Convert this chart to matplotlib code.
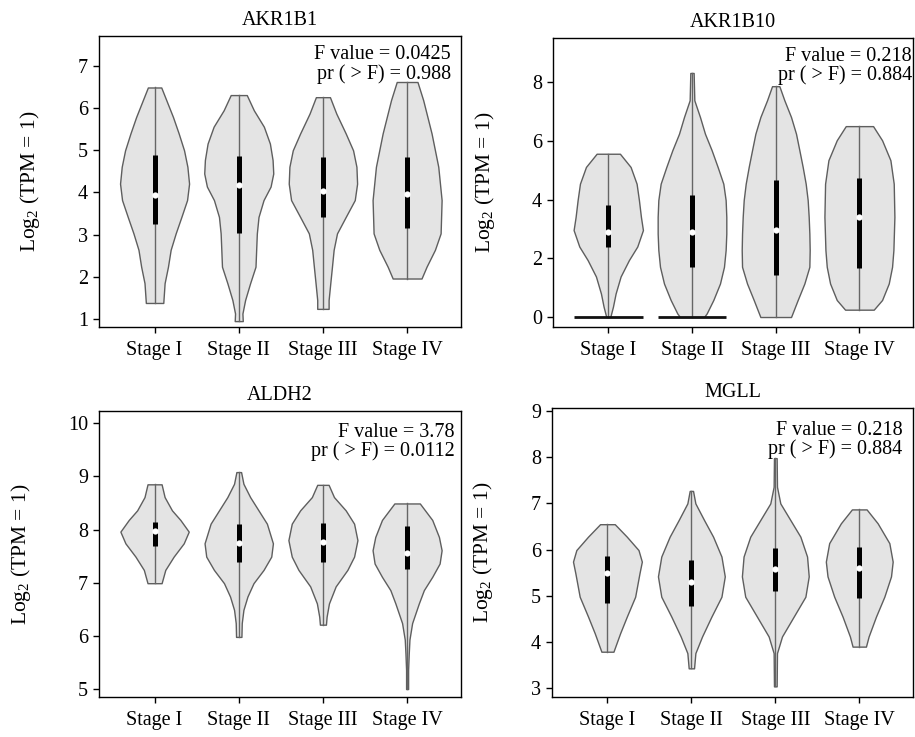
import numpy as np
import matplotlib
matplotlib.use('Agg')
import matplotlib.pyplot as plt

plt.rcParams['font.family'] = ['Liberation Serif', 'DejaVu Serif']
plt.rcParams['mathtext.fontset'] = 'custom'
plt.rcParams['mathtext.rm'] = 'Liberation Serif'
plt.rcParams['mathtext.default'] = 'regular'

stages = ['Stage I', 'Stage II', 'Stage III', 'Stage IV']
genes = ['AKR1B1', 'AKR1B10', 'ALDH2', 'MGLL']
f_text = ['F value = 0.0425\npr ( > F) = 0.988',
          'F value = 0.218\npr ( > F) = 0.884',
          'F value = 3.78\npr ( > F) = 0.0112',
          'F value = 0.218\npr ( > F) = 0.884']

# violin outlines: y levels and relative density (max ~100)
akr1b1_y = [[6.49, 6.19, 5.79, 5.40, 5.00, 4.61, 4.21, 3.82, 3.42, 3.03, 2.64, 2.24, 1.85, 1.38],
            [6.31, 5.95, 5.56, 5.16, 4.77, 4.45, 4.14, 3.82, 3.42, 3.03, 2.64, 2.24, 1.85, 1.45, 1.13, 0.95],
            [6.26, 5.87, 5.40, 5.00, 4.61, 4.21, 3.82, 3.42, 3.03, 2.64, 2.24, 1.85, 1.45, 1.24],
            [6.62, 6.19, 5.40, 4.61, 3.82, 3.03, 2.64, 2.24, 1.96]]
akr1b1_d = [[20, 35, 55, 72, 88, 98, 103, 97, 80, 63, 48, 40, 30, 26],
            [24, 45, 75, 93, 101, 103, 95, 74, 59, 54, 52, 50, 34, 19, 11, 12],
            [21, 40, 68, 90, 100, 102, 95, 68, 42, 32, 27, 22, 17, 17],
            [31, 48, 73, 93, 103, 100, 83, 58, 43]]
akr1b1_box = [[3.25, 3.94, 4.89], [3.03, 4.17, 4.87], [3.42, 4.04, 4.83], [3.15, 3.97, 4.83]]

akr1b10_y = [[5.56, 5.11, 4.54, 3.98, 3.41, 2.96, 2.40, 1.94, 1.38, 0.80, 0.35, 0.0],
             [8.31, 7.83, 7.38, 6.81, 6.24, 5.68, 5.11, 4.54, 3.98, 3.41, 2.84, 2.28, 1.71, 1.14, 0.58, 0.12, 0.0],
             [7.86, 7.38, 6.81, 6.24, 5.68, 5.11, 4.54, 3.98, 3.41, 2.84, 2.28, 1.71, 1.14, 0.58, 0.0],
             [6.50, 6.02, 5.34, 4.54, 3.41, 2.28, 1.71, 1.14, 0.58, 0.25]]
akr1b10_d = [[35, 67, 85, 92, 98, 104, 87, 62, 37, 22, 14, 6],
             [5, 6, 7, 24, 39, 59, 77, 94, 101, 103, 103, 101, 96, 84, 64, 44, 36],
             [11, 26, 46, 61, 71, 81, 90, 96, 99, 101, 102, 101, 86, 66, 46],
             [41, 68, 93, 103, 105, 102, 98, 88, 68, 43]]
# pile of zero values (density spike at 0)
akr1b10_zero = [103, 103, 0, 0]
akr1b10_box = [[2.39, 2.90, 3.83], [1.71, 2.88, 4.15], [1.43, 2.96, 4.66], [1.68, 3.41, 4.74]]

aldh2_y = [[8.85, 8.61, 8.36, 8.18, 7.96, 7.74, 7.49, 7.24, 6.99],
           [9.08, 8.86, 8.61, 8.36, 8.11, 7.74, 7.49, 7.24, 6.99, 6.74, 6.49, 6.24, 5.98],
           [8.84, 8.61, 8.36, 8.11, 7.80, 7.49, 7.24, 6.93, 6.61, 6.36, 6.21],
           [8.49, 8.18, 7.86, 7.61, 7.36, 7.11, 6.86, 6.61, 6.24, 5.93, 5.68, 5.36, 5.00]]
aldh2_d = [[21, 30, 52, 77, 102, 87, 57, 32, 21],
           [7, 14, 34, 59, 84, 102, 97, 74, 44, 26, 14, 9, 8],
           [17, 33, 68, 93, 103, 93, 73, 38, 18, 11, 9],
           [38, 75, 95, 103, 97, 75, 50, 35, 15, 7, 5, 3, 3]]
aldh2_box = [[7.69, 7.97, 8.14], [7.39, 7.74, 8.10], [7.39, 7.77, 8.12], [7.26, 7.55, 8.06]]

mgll_y = [[6.55, 6.28, 5.99, 5.74, 5.49, 4.98, 4.55, 4.19, 3.79],
          [7.27, 7.00, 6.64, 6.28, 5.85, 5.42, 4.98, 4.55, 4.12, 3.76, 3.43],
          [7.98, 7.36, 7.00, 6.64, 6.28, 5.85, 5.42, 4.98, 4.55, 4.12, 3.76, 3.04],
          [6.87, 6.57, 6.14, 5.74, 5.42, 4.98, 4.55, 4.12, 3.90]]
mgll_d = [[22, 58, 93, 103, 96, 83, 58, 38, 18],
          [5, 12, 38, 65, 90, 100, 90, 60, 32, 12, 8],
          [4, 5, 15, 45, 75, 95, 100, 90, 55, 20, 5, 4],
          [22, 55, 90, 100, 95, 75, 50, 28, 20]]
mgll_box = [[4.84, 5.50, 5.86], [4.79, 5.29, 5.78], [5.11, 5.57, 6.03], [4.95, 5.60, 6.06]]

all_y = [akr1b1_y, akr1b10_y, aldh2_y, mgll_y]
all_d = [akr1b1_d, akr1b10_d, aldh2_d, mgll_d]
all_box = [akr1b1_box, akr1b10_box, aldh2_box, mgll_box]
ylims = [(0.81, 7.71), (-0.34, 9.5), (4.85, 10.23), (2.81, 9.065)]
yticks = [range(1, 8), range(0, 9, 2), range(5, 11), range(3, 10)]

# axes boxes in figure fraction
boxes = [[0.1082, 0.5563, 0.3956, 0.3948],
         [0.6044, 0.5563, 0.3934, 0.3921],
         [0.1082, 0.0543, 0.3956, 0.3881],
         [0.6033, 0.0543, 0.3945, 0.3921]]
label_x = [-0.157, -0.156, -0.182, -0.158]
text_pos = [(0.972, 0.968), (0.997, 0.97), (0.983, 0.958), (0.97, 0.955)]

MAX_HW = 0.41 / 103.0
fs = 14.5

fig = plt.figure(figsize=(9.15, 7.37), dpi=100)
for k in range(4):
    ax = fig.add_axes(boxes[k])
    for i in range(4):
        y = np.array(all_y[k][i])
        w = np.array(all_d[k][i]) * MAX_HW
        ax.fill_betweenx(y, i - w, i + w, facecolor='#e4e4e4', edgecolor='#5e5e5e', linewidth=1.0, zorder=2)
        ax.plot([i, i], [y.min(), y.max()], color='#666666', linewidth=1.0, zorder=3)
        if k == 1 and akr1b10_zero[i] > 0:
            zw = akr1b10_zero[i] * MAX_HW
            ax.hlines(0, i - zw, i + zw, color='#111111', linewidth=2.0, zorder=3)
        q1, med, q3 = all_box[k][i]
        ax.plot([i, i], [q1, q3], color='black', linewidth=3.6, solid_capstyle='butt', zorder=4)
        ax.plot(i, med, 'o', color='white', markersize=4.5, markeredgewidth=0, zorder=5)
    ax.set_xlim(-0.66, 3.64)
    ax.set_ylim(*ylims[k])
    ax.set_xticks(range(4))
    ax.set_xticklabels(stages)
    ax.set_yticks(list(yticks[k]))
    ax.tick_params(direction='out', length=4, width=1, labelsize=fs, pad=4)
    ax.tick_params(axis='x', pad=6)
    for s in ax.spines.values():
        s.set_linewidth(1.0)
    ax.set_title(genes[k], fontsize=fs, pad=8)
    ax.set_ylabel(r'Log$_2$ (TPM = 1)', fontsize=fs + 1)
    ax.yaxis.set_label_coords(label_x[k], 0.5)
    ax.text(text_pos[k][0], text_pos[k][1], f_text[k], transform=ax.transAxes,
            ha='right', va='top', fontsize=fs, linespacing=0.98, zorder=6)

fig.savefig('out.png', dpi=100)
